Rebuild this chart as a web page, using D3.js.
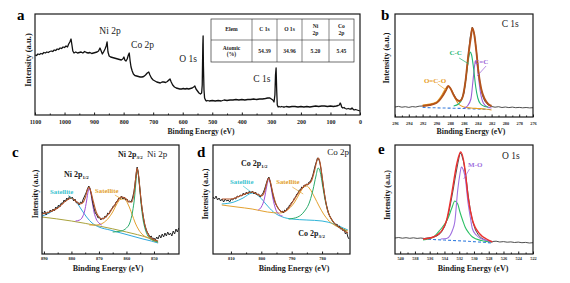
<!DOCTYPE html>
<html>
<head>
<meta charset="utf-8">
<script src="https://cdn.jsdelivr.net/npm/d3@7"></script>
<style>
  body { margin: 0; background: #fff; }
  svg { display: block; }
</style>
</head>
<body>
<svg id="chart" width="570" height="283"></svg>
<script>
// ---- data (binding energy eV, intensity a.u.) ----

// a: survey
const surveyData = [
  [1100,60],[1095,59.5],[1090,61],[1085,60.5],[1080,61.5],[1075,61],[1070,62.5],[1065,62],[1060,63],[1055,62.5],
  [1050,63.5],[1045,64],[1040,63.5],[1035,65],[1030,64.5],[1025,66],[1020,65.5],[1015,67],[1010,66.5],[1005,68],
  [1000,67.5],[995,69],[990,68],[986,71],[982,73],[978,76],[975,70],[972,64],[968,62],[962,63],[956,62],[950,62.5],
  [944,63],[938,62],[932,63.5],[926,62.5],[920,62],[914,62.5],[908,61.5],[902,62],[896,62.5],[890,63],[885,64],
  [880,67],[876,64],[872,61],[868,63],[863,66],[859,69],[856,73],[853,63],[849,59],[844,58],[838,57.5],[832,57],
  [826,56.5],[820,56],[814,55.5],[808,55],[803,56],[799,58],[796,55],[792,54],[788,56],[784,60],[781,62],[778,54],
  [775,48],[771,44],[767,41],[762,39.5],[756,39],[750,38.5],[744,38],[738,38],[732,38.5],[726,40],[720,42],[715,43],
  [711,40],[706,37],[700,35],[694,34],[688,33],[682,32.5],[676,32],[670,33],[664,33],[658,32.5],[652,33.5],[647,35],
  [643,36],[639,33],[634,30],[628,28],[622,27],[616,26.5],[610,26],[604,26],[598,26.5],[592,26],[586,26.5],[580,26],
  [574,26.5],[568,27],[563,28],[559,29],[555,26],[550,24],[545,22],[540,21],[536,22],[534,30],[532,70],[531,79],
  [530,50],[528,25],[526,17],[523,15],[520,14],[515,14.5],[510,14],[500,14.5],[490,14],[480,14.5],[470,14],[460,15],
  [450,14.5],[440,15],[430,15],[420,15.5],[410,15],[400,15.5],[390,15],[380,15.5],[370,15.5],[360,16],[350,15.5],
  [340,16],[330,16],[320,16.5],[312,17],[305,17],[300,16],[295,15],[291,13],[288,20],[286,40],[284,47],[282,25],
  [280,10],[277,8],[274,8.5],[270,8],[265,8.5],[260,8],[255,8],[250,8.5],[240,8],[230,8.5],[220,8.5],[210,8],
  [200,8.5],[190,8],[180,8.5],[170,8],[160,8.5],[150,9],[140,8.5],[130,9],[120,9],[110,8.5],[100,9],[90,8.5],
  [80,9],[74,9.5],[70,10],[67,12],[65,11],[62,8],[58,7],[54,7.5],[50,6.5],[45,6],[40,6.5],[35,6],[30,6],[27,7],
  [24,6],[20,5],[15,5.5],[10,5],[5,4.5],[0,4]
];
const surveyTicks = [1100, 1000, 900, 800, 700, 600, 500, 400, 300, 200, 100, 0];
const surveyPeaks = [
  { name: 'Ni 2p', be: 846, v: 81 },
  { name: 'Co 2p', be: 736, v: 67 },
  { name: 'O 1s', be: 582, v: 53 },
  { name: 'C 1s', be: 332, v: 33 }
];
const tableHead = [['Elem'], ['C 1s'], ['O 1s'], ['Ni', '2p'], ['Co', '2p']];
const tableRow = [['Atomic', '(%)'], ['54.39'], ['34.96'], ['5.20'], ['5.45']];

// b: C 1s
const c1sRaw = [
  [296,10],[295.5,10.6],[295,9.8],[294.5,10.3],[294,9.6],[293.5,10.4],[293,10],[292.5,10.8],[292,11],[291.5,11.5],
  [291,12.3],[290.5,13],[290,14.5],[289.5,17.5],[289,22],[288.6,27],[288.3,30.5],[288,29],[287.6,24],[287.2,19],
  [286.8,16],[286.4,17],[286,24],[285.7,40],[285.4,60],[285.1,80],[284.8,90],[284.5,83],[284.2,66],[283.9,46],
  [283.6,30],[283.3,21],[283,16],[282.5,12],[282,10.5],[281.5,9.8],[281,10.3],[280.5,9.5],[280,10],[279.5,9.4],
  [279,9.9],[278.5,9.3],[278,9.6],[277.5,9.2],[277,9.5],[276.5,9.1],[276,9.3]
];
const c1sEnv = [
  [292,11],[291,12],[290,14],[289.2,20],[288.6,27],[288.3,31],[288,29],[287.5,22],[287,17],[286.6,16],[286.2,20],
  [285.8,35],[285.4,60],[285,80],[284.8,89],[284.5,82],[284.2,65],[283.9,45],[283.5,28],[283,18],[282.5,13],[282,11]
];
const c1sCC = [
  [287.5,11],[286.8,13],[286.3,18],[285.9,30],[285.6,45],[285.3,60],[285.1,65],[284.9,62],[284.6,48],[284.3,30],
  [284,19],[283.6,13],[283,10.5],[282.5,10]
];
const c1sCdC = [
  [286,9],[285.5,11],[285,18],[284.7,36],[284.45,52],[284.3,56],[284.1,52],[283.9,40],[283.6,24],[283.2,14],
  [282.6,10],[282,9]
];
const c1sOCO = [
  [292,12],[291,13],[290,15],[289.3,21],[288.8,27],[288.3,31],[287.8,27],[287.3,19],[286.8,13],[286,10],[285,9],
  [284,8.5],[283,8],[282,7]
];
const c1sBase = [[292,9.5],[289,9],[286,8.5],[284,8],[282,7.5]];
const c1sTicks = [296, 294, 292, 290, 288, 286, 284, 282, 280, 278, 276];

// c: Ni 2p
const ni2pRaw = [
  [890.7,42],[890.2,40],[889.7,43],[889.2,39],[888.7,42],[888.2,41],[887.7,44],[887.2,42],[886.7,45],[886.2,43],
  [885.7,47],[885.2,45],[884.7,49],[884.2,47],[883.7,51],[883.2,50],[882.7,54],[882.2,52],[881.7,56],[881.2,54],
  [880.7,58],[880.2,55],[879.7,57],[879.2,53],[878.7,55],[878.2,51],[877.7,52],[877.2,49],[876.7,52],[876.2,51],
  [875.7,55],[875.2,58],[874.7,61],[874.2,65],[873.7,68],[873.3,66],[872.8,60],[872.3,52],[871.8,46],[871.3,41],
  [870.8,39],[870.3,36],[869.8,37],[869.3,34],[868.8,36],[868.3,35],[867.8,38],[867.3,37],[866.8,41],[866.3,40],
  [865.8,44],[865.3,45],[864.8,48],[864.3,48],[863.8,52],[863.3,53],[862.8,56],[862.3,55],[861.8,58],[861.3,55],
  [860.8,57],[860.3,54],[859.8,55],[859.3,52],[858.8,53],[858.3,52],[857.8,56],[857.3,62],[856.8,72],[856.4,82],
  [856.1,87],[855.8,83],[855.4,73],[855,62],[854.6,51],[854.2,43],[853.8,36],[853.4,30],[853,26],[852.5,22],
  [852,20],[851.5,17],[851,18],[850.5,15],[850,16],[849.5,14],[849,17],[848.5,15],[848,19],[847.5,16],[847,20],
  [846.5,17],[846,21],[845.5,18],[845,22],[844.5,19],[844,21],[843.5,18],[843,23],[842.5,20],[842,25],[841.5,22],[841,26]
];
const ni2pEnv = [
  [890.7,40],[888,42],[885,46],[883,51],[881,55],[880,56],[878.5,53],[877,50],[876,51],[875,56],[874.2,64],
  [873.6,67],[873,63],[872,52],[871,42],[870,37],[869,35],[868,36],[866.5,40],[865,46],[863.5,52],[862,57],
  [860.5,56],[859,52],[858,52],[857.2,62],[856.6,77],[856.1,86],[855.6,79],[855,62],[854.2,43],[853.3,29],
  [852,19],[850.5,15],[848.5,13]
];
const ni2pBase = [[890.7,37],[880,33],[870,28],[860,22],[852,16],[848.5,12]];
const ni2pSat1 = [
  [890.7,38],[888,41],[885,47],[882.5,53],[880.3,56],[878.5,53],[876.5,45],[874.5,37],[872.5,31],[870,27],
  [866,24],[862,21],[858,18],[854,15],[851,13],[848.5,11]
];
const ni2pSat2 = [
  [873.5,29],[871,29],[868.5,31],[866.5,36],[865,42],[863.5,50],[862,55],[860.7,55],[859.3,49],[858,40],
  [856.8,31],[855.5,24],[854,19],[852,16],[850,13],[848.5,12]
];
const ni2p12 = [
  [878.5,33],[877,34],[876,37],[875.2,43],[874.5,53],[873.9,63],[873.5,66],[873.1,63],[872.5,53],[871.8,42],
  [871,35],[870,31],[869,29]
];
const ni2p32 = [
  [865,22],[862,23],[860,26],[858.8,31],[857.8,42],[857,58],[856.5,74],[856.1,84],[855.7,80],[855.2,66],
  [854.6,48],[854,35],[853.2,25],[852.2,18],[850.5,14],[848.5,12]
];
const ni2pTicks = [890, 880, 870, 860, 850];

// d: Co 2p
const co2pRaw = [
  [815.9,57],[815.4,55],[814.9,58],[814.4,54],[813.9,56],[813.4,53],[812.9,55],[812.4,52],[811.9,55],[811.4,53],
  [810.9,54],[810.4,52],[809.9,55],[809.4,54],[808.9,56],[808.4,55],[807.9,58],[807.4,57],[806.9,59],[806.4,58],
  [805.9,61],[805.4,59],[804.9,62],[804.4,60],[803.9,63],[803.4,61],[802.9,63],[802.4,60],[801.9,62],[801.4,59],
  [800.9,60],[800.4,57],[799.9,59],[799.4,61],[798.9,65],[798.4,70],[797.9,75],[797.5,77],[797.1,73],[796.7,67],
  [796.3,61],[795.9,56],[795.5,52],[795.1,49],[794.7,47],[794.3,45],[793.9,44],[793.5,42],[793.1,43],[792.7,41],
  [792.3,44],[791.9,43],[791.5,46],[791.1,46],[790.7,49],[790.3,50],[789.9,52],[789.5,53],[789.1,56],[788.7,57],
  [788.3,60],[787.9,61],[787.5,64],[787.1,64],[786.7,67],[786.3,66],[785.9,69],[785.5,68],[785.1,70],[784.7,69],
  [784.3,72],[783.9,72],[783.5,75],[783.1,78],[782.7,83],[782.3,88],[781.9,92],[781.5,96],[781.1,95],[780.7,91],
  [780.3,84],[779.9,75],[779.5,66],[779.1,58],[778.7,51],[778.3,46],[777.9,41],[777.5,38],[777.1,36],[776.7,34],
  [776.3,32],[775.9,31],[775.5,29],[775.1,30],[774.7,27],[774.3,28],[773.9,25],[773.5,26],[773.1,23],[772.7,24],
  [772.3,20],[771.9,22],[771.5,17],[771.1,15]
];
const co2pEnv = [
  [813,55],[810,55],[807,58],[804.5,61],[803,62],[801.5,60],[800,58],[799,62],[798.2,71],[797.6,76],[797,72],
  [796.2,61],[795.3,51],[794.3,45],[793,42],[792,43],[791,46],[789.5,53],[788,60],[786.5,66],[785.5,69],[784.5,70],
  [783.5,73],[782.5,83],[781.6,94],[781.2,96],[780.7,92],[780,78],[779.2,60],[778.3,45],[777.3,37],[776,31],
  [774.5,27],[772.5,23],[771.5,21]
];
const co2pSat1 = [
  [813,50],[809,52],[806,56],[803,61],[800.5,57],[798.5,50],[796,42],[793,37],[790,35],[785,34],[780,33],
  [776,30],[773,26],[771.5,24]
];
const co2pSat2 = [
  [813,49],[808,47],[803,45],[798,42],[794,41],[791,45],[789,52],[787.5,60],[786,67],[785,68],[784,65],
  [782.5,57],[781,48],[779.5,40],[778,34],[776,29],[773,25],[771.5,23]
];
const co2p12 = [
  [801,44],[800,47],[799,55],[798.2,68],[797.6,75],[797,70],[796.2,56],[795.3,45],[794.3,40],[793,38]
];
const co2p32 = [
  [791,35],[788,37],[786,42],[784,53],[783,64],[782,78],[781.3,86],[780.6,82],[779.8,68],[779,54],[778,42],
  [777,35],[775.5,29],[774,26],[772,23]
];
const co2pTicks = [810, 800, 790, 780];

// e: O 1s
const o1sRaw = [
  [540.7,16],[540.2,16.5],[539.7,15.8],[539.2,16.3],[538.7,15.7],[538.2,16.2],[537.7,15.6],[537.2,16],[536.7,15.5],
  [536.2,16.2],[535.7,16.5],[535.2,17.5],[534.8,19],[534.4,22],[534,27],[533.7,33],[533.4,42],[533.1,53],[532.8,65],
  [532.5,78],[532.2,90],[531.9,101],[531.7,100],[531.4,92],[531.1,78],[530.8,60],[530.5,44],[530.2,33],[529.8,24],
  [529.4,19],[529,16],[528.5,14],[528,13],[527.5,12.5],[527,12.8],[526.5,12],[526,12.4],[525.5,11.8],[525,12.1],
  [524.5,11.5],[524,11.9],[523.5,11.3],[523,11.6],[522.5,11],[522,11.3]
];
const o1sEnv = [
  [536.9,15],[535.5,17],[534.8,20],[534.3,24],[533.7,34],[533,61],[532.3,91],[531.8,102],[531.2,84],[530.8,57],
  [530.2,34],[529.2,20],[528.3,15],[527.5,12]
];
const o1sOther = [
  [536.9,14],[535.5,17],[534.6,24],[533.5,36],[533,46],[532.6,53],[532.2,50],[531.9,42],[531.5,33],[531.2,27],
  [530.7,21],[530.2,17],[529,13.5],[527.5,12]
];
const o1sMO = [
  [534.5,15],[533.7,15.5],[533.2,19],[532.9,24],[532.6,32],[532.2,64],[531.9,80],[531.7,87],[531.4,83],[531.2,77],
  [530.8,51],[530.5,37],[530.2,25],[529.7,19],[529.2,16],[528,13],[527.5,12]
];
const o1sBase = [[536.9,15],[534,14],[531,12.8],[527.5,11]];
const o1sTicks = [540, 538, 536, 534, 532, 530, 528, 526, 524, 522];

// ---- drawing ----
const svg = d3.select('#chart');
const serif = '"Liberation Serif", "Times New Roman", serif';
const ink = '#1a1a1a';

function makePanel(cfg) {
  const x = d3.scaleLinear().domain(cfg.xDomain).range([cfg.left, cfg.right]);
  const y = d3.scaleLinear().domain(cfg.yDomain).range([cfg.bottom, cfg.top]);
  const g = svg.append('g');

  if (cfg.minor) {
    const mi = g.append('g')
      .attr('transform', `translate(0,${cfg.bottom})`)
      .call(d3.axisBottom(x).tickValues(cfg.minor).tickSize(-1.5).tickFormat(''));
    mi.select('.domain').remove();
    mi.selectAll('line').attr('stroke', ink);
  }
  const ax = g.append('g')
    .attr('transform', `translate(0,${cfg.bottom})`)
    .call(d3.axisBottom(x).tickValues(cfg.ticks).tickSize(-2.5).tickPadding(cfg.pad).tickFormat(d3.format('d')));
  ax.select('.domain').remove();
  ax.selectAll('line').attr('stroke', ink);
  ax.selectAll('text')
    .attr('font-family', serif)
    .attr('font-weight', 'bold')
    .attr('font-size', cfg.tickFont)
    .attr('fill', ink);

  // axis titles
  g.append('text')
    .attr('x', cfg.titleX)
    .attr('y', cfg.titleY)
    .attr('text-anchor', 'middle')
    .attr('font-family', serif)
    .attr('font-weight', 'bold')
    .attr('font-size', cfg.titleFont)
    .attr('fill', ink)
    .text('Binding Energy (eV)');

  g.append('text')
    .attr('transform', `translate(${cfg.yTitleX},${cfg.yTitleY}) rotate(-90)`)
    .attr('text-anchor', 'middle')
    .attr('font-family', serif)
    .attr('font-weight', 'bold')
    .attr('font-size', cfg.yTitleFont)
    .attr('fill', ink)
    .text('Intensity (a.u.)');

  // panel letter
  g.append('text')
    .attr('x', cfg.letterX)
    .attr('y', cfg.letterY)
    .attr('font-family', serif)
    .attr('font-weight', 'bold')
    .attr('font-size', 15)
    .attr('fill', '#000')
    .text(cfg.letter);

  return { g, x, y, cfg };
}

function drawLine(p, data, color, width, opts = {}) {
  const line = d3.line()
    .x(d => p.x(d[0]))
    .y(d => p.y(d[1]))
    .curve(opts.smooth ? d3.curveMonotoneX : d3.curveLinear);
  p.g.append('path')
    .datum(data)
    .attr('d', line)
    .attr('fill', 'none')
    .attr('stroke', color)
    .attr('stroke-width', width)
    .attr('stroke-linejoin', 'round')
    .attr('stroke-dasharray', opts.dash || null);
}

function frame(p) {
  const c = p.cfg;
  p.g.append('rect')
    .attr('x', c.left)
    .attr('y', c.top)
    .attr('width', c.right - c.left)
    .attr('height', c.bottom - c.top)
    .attr('fill', 'none')
    .attr('stroke', ink)
    .attr('stroke-width', 1.2);
}

function label(p, be, v, main, sub, opts = {}) {
  const t = p.g.append('text')
    .attr('x', p.x(be))
    .attr('y', p.y(v))
    .attr('text-anchor', opts.anchor || 'start')
    .attr('font-family', serif)
    .attr('font-weight', opts.bold === false ? 'normal' : 'bold')
    .attr('font-size', opts.size || 7)
    .attr('fill', opts.color || ink);
  t.append('tspan').text(main);
  if (sub) {
    t.append('tspan')
      .attr('font-size', (opts.size || 7) * 0.62)
      .attr('dy', 1.8)
      .text(sub);
  }
}

function leader(p, from, to, color) {
  p.g.append('line')
    .attr('x1', p.x(from[0])).attr('y1', p.y(from[1]))
    .attr('x2', p.x(to[0])).attr('y2', p.y(to[1]))
    .attr('stroke', color)
    .attr('stroke-width', 0.7);
}

// ---- panel a: survey ----
const pa = makePanel({
  xDomain: [1100, 0], yDomain: [0, 101],
  left: 35, right: 360, top: 14, bottom: 115,
  ticks: surveyTicks, minor: d3.range(1050, 0, -100), pad: 5, tickFont: 6,
  titleX: 201, titleY: 134, titleFont: 7.6,
  yTitleX: 31, yTitleY: 60, yTitleFont: 8.6,
  letter: 'a', letterX: 17, letterY: 20
});
drawLine(pa, surveyData, '#111', 1.3);
surveyPeaks.forEach(d => label(pa, d.be, d.v, d.name, null, { anchor: 'middle', bold: false, size: 9.5 }));

// element table
const colEdges = [211, 252, 277, 302, 329, 354];
const tTop = 19, tMid = 40, tBot = 62;
const tg = pa.g.append('g');
tg.append('rect')
  .attr('x', colEdges[0]).attr('y', tTop)
  .attr('width', colEdges[5] - colEdges[0]).attr('height', tBot - tTop)
  .attr('fill', '#fff').attr('stroke', '#333').attr('stroke-width', 0.7);
tg.append('line')
  .attr('x1', colEdges[0]).attr('x2', colEdges[5]).attr('y1', tMid).attr('y2', tMid)
  .attr('stroke', '#333').attr('stroke-width', 0.6);
colEdges.slice(1, 5).forEach(cx => {
  tg.append('line')
    .attr('x1', cx).attr('x2', cx).attr('y1', tTop).attr('y2', tBot)
    .attr('stroke', '#333').attr('stroke-width', 0.6);
});
function cellText(lines, i, yc) {
  const cx = (colEdges[i] + colEdges[i + 1]) / 2;
  const t = tg.append('text')
    .attr('x', cx)
    .attr('text-anchor', 'middle')
    .attr('font-family', serif)
    .attr('font-weight', 'bold')
    .attr('font-size', 5.6)
    .attr('fill', ink);
  const y0 = yc - (lines.length - 1) * 3.1 + 1.9;
  lines.forEach((s, k) => t.append('tspan').attr('x', cx).attr('y', y0 + k * 6.2).text(s));
}
tableHead.forEach((c, i) => cellText(c, i, (tTop + tMid) / 2));
tableRow.forEach((c, i) => cellText(c, i, (tMid + tBot) / 2));
frame(pa);

// ---- panel b: C 1s ----
const pb = makePanel({
  xDomain: [296, 276], yDomain: [0, 103],
  left: 395, right: 533, top: 14, bottom: 117,
  ticks: c1sTicks, minor: d3.range(295, 276, -2), pad: 5, tickFont: 4.3,
  titleX: 471, titleY: 134, titleFont: 7.8,
  yTitleX: 389, yTitleY: 58, yTitleFont: 8.2,
  letter: 'b', letterX: 381, letterY: 20
});
drawLine(pb, c1sRaw, '#3a3a3a', 0.9);
drawLine(pb, c1sBase, '#3d7fdc', 1.1, { smooth: true, dash: '3,2' });
drawLine(pb, c1sOCO, '#e89c1e', 1.1, { smooth: true });
drawLine(pb, c1sCdC, '#9b5fd6', 1.1, { smooth: true });
drawLine(pb, c1sCC, '#22b573', 1.1, { smooth: true });
drawLine(pb, c1sEnv, '#b4531b', 1.9, { smooth: true });
label(pb, 279.3, 90, 'C 1s', null, { anchor: 'middle', bold: false, size: 9.5 });
label(pb, 287.2, 62, 'C-C', null, { anchor: 'middle', color: '#22b573', size: 7 });
leader(pb, [286.7, 59], [285.3, 53], '#22b573');
label(pb, 283.5, 53, 'C=C', null, { anchor: 'middle', color: '#9b5fd6', size: 7 });
leader(pb, [282.8, 51], [284.1, 41], '#9b5fd6');
label(pb, 290.2, 34, 'O=C-O', null, { anchor: 'middle', color: '#e89c1e', size: 7 });
leader(pb, [289.8, 33], [288.6, 27], '#e89c1e');
frame(pb);

// ---- panel c: Ni 2p ----
const pc = makePanel({
  xDomain: [890.7, 840.9], yDomain: [0, 109],
  left: 42, right: 179, top: 145, bottom: 254,
  ticks: ni2pTicks, minor: [885, 875, 865, 855, 845], pad: 3, tickFont: 4.5,
  titleX: 108, titleY: 271, titleFont: 8,
  yTitleX: 38, yTitleY: 194, yTitleFont: 7.8,
  letter: 'c', letterX: 12, letterY: 157
});
drawLine(pc, ni2pBase, '#a9a23c', 1, { smooth: true });
drawLine(pc, ni2pSat1, '#2fa8dc', 1, { smooth: true });
drawLine(pc, ni2pSat2, '#e3a12f', 1, { smooth: true });
drawLine(pc, ni2p12, '#a04fd4', 1, { smooth: true });
drawLine(pc, ni2p32, '#2aaa6a', 1, { smooth: true });
drawLine(pc, ni2pRaw, '#262626', 1);
drawLine(pc, ni2pEnv, '#b8562a', 1.1, { smooth: true });
label(pc, 882.7, 77, 'Ni 2p', '1/2', { size: 8 });
label(pc, 863.1, 97, 'Ni 2p', '3/2', { size: 8 });
label(pc, 852.5, 97, 'Ni 2p', null, { bold: false, size: 9 });
label(pc, 887.8, 60, 'Satellite', null, { color: '#3cc3d0', size: 6.8 });
leader(pc, [881.2, 59], [879.6, 55], '#3cc3d0');
label(pc, 871.4, 61, 'Satellite', null, { color: '#e3a12f', size: 6.8 });
leader(pc, [864.2, 59], [861.8, 55], '#e3a12f');
frame(pc);

// ---- panel d: Co 2p ----
const pd = makePanel({
  xDomain: [815.9, 770.8], yDomain: [0, 109],
  left: 213, right: 350, top: 145, bottom: 254,
  ticks: co2pTicks, minor: [805, 795, 785, 775], pad: 3, tickFont: 4.5,
  titleX: 294, titleY: 271, titleFont: 8,
  yTitleX: 208, yTitleY: 194, yTitleFont: 8.2,
  letter: 'd', letterX: 197, letterY: 157
});
drawLine(pd, co2pSat1, '#2fb4d8', 1, { smooth: true });
drawLine(pd, co2pSat2, '#e3a12f', 1, { smooth: true });
drawLine(pd, co2p12, '#a04fd4', 1, { smooth: true });
drawLine(pd, co2p32, '#2aaa6a', 1, { smooth: true });
drawLine(pd, co2pRaw, '#262626', 1);
drawLine(pd, co2pEnv, '#b8562a', 1.1, { smooth: true });
label(pd, 806.7, 88, 'Co 2p', '1/2', { size: 8 });
label(pd, 778.3, 99, 'Co 2p', null, { bold: false, size: 9 });
label(pd, 810.3, 70, 'Satellite', null, { color: '#3cc3d0', size: 6.8 });
leader(pd, [806, 68], [803.4, 62], '#3cc3d0');
label(pd, 795.1, 70, 'Satellite', null, { color: '#e3a12f', size: 6.8 });
leader(pd, [789.8, 67], [786.2, 60], '#e3a12f');
label(pd, 787.8, 18, 'Co 2p', '3/2', { size: 8 });
frame(pd);

// ---- panel e: O 1s ----
const pe = makePanel({
  xDomain: [540.7, 522], yDomain: [0, 109],
  left: 395, right: 533, top: 145, bottom: 254,
  ticks: o1sTicks, minor: d3.range(539, 522, -2), pad: 3, tickFont: 4.3,
  titleX: 473, titleY: 271, titleFont: 8,
  yTitleX: 390, yTitleY: 195, yTitleFont: 8,
  letter: 'e', letterX: 378, letterY: 154
});
drawLine(pe, o1sRaw, '#3a3a3a', 0.9);
drawLine(pe, o1sBase, '#3b82e0', 1.1, { smooth: true, dash: '3,2' });
drawLine(pe, o1sOther, '#2cc064', 1.1, { smooth: true });
drawLine(pe, o1sMO, '#a070e0', 1.1, { smooth: true });
drawLine(pe, o1sEnv, '#ec2f2f', 1.4, { smooth: true });
label(pe, 526.2, 95, 'O 1s', null, { bold: false, size: 9.5 });
label(pe, 530.8, 87, 'M-O', null, { color: '#a070e0', size: 7 });
leader(pe, [530.6, 85], [531.4, 75], '#a070e0');
frame(pe);
</script>
</body>
</html>
